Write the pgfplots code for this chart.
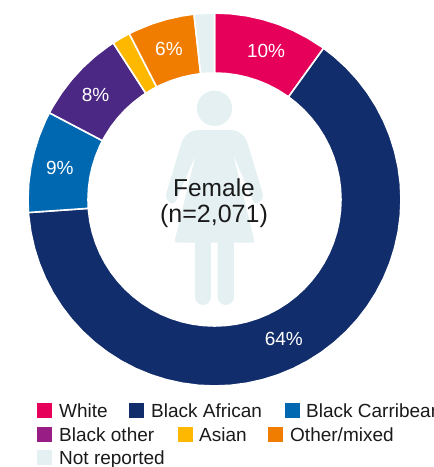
\documentclass[border=0pt]{standalone}
\usepackage{fontspec}
\setmainfont{Liberation Sans}
\usepackage{pgfplots}
\usepgfplotslibrary{polar}
\pgfplotsset{compat=1.18}
\definecolor{cwhite}{HTML}{E6005A}
\definecolor{cafrican}{HTML}{122D6B}
\definecolor{ccarib}{HTML}{0068B0}
\definecolor{cother}{HTML}{4B2884}
\definecolor{cotherleg}{HTML}{981D84}
\definecolor{casian}{HTML}{FFB800}
\definecolor{cmixed}{HTML}{F07D00}
\definecolor{cnr}{HTML}{E4F0F1}
\definecolor{ctext}{HTML}{1A1A1A}
\begin{document}
\begin{tikzpicture}
\clip (0pt,0pt) rectangle (434pt,467pt);
\path[use as bounding box] (0pt,0pt) rectangle (434pt,467pt);
\begin{polaraxis}[
    at={(28pt,81pt)}, anchor=south west,
    scale only axis, width=373pt, height=373pt,
    xmin=0, xmax=360, ymin=0, ymax=186.5,
    hide axis, clip=false,
    every axis plot/.append style={draw=white, line width=1.6pt, line join=miter, no markers},
]
% boundaries read as angles, radius outer 186.5 inner 126.5
% White 10%
\addplot[fill=cwhite] coordinates {
 (90,186.5)(85,186.5)(80,186.5)(75,186.5)(70,186.5)(65,186.5)(60,186.5)(55,186.5)(54.2,186.5)
 (54.2,126.5)(55,126.5)(60,126.5)(65,126.5)(70,126.5)(75,126.5)(80,126.5)(85,126.5)(90,126.5)
} --cycle;
% Black African 64%
\addplot[fill=cafrican] coordinates {
 (54.2,186.5)(50,186.5)(45,186.5)(40,186.5)(35,186.5)(30,186.5)(25,186.5)(20,186.5)(15,186.5)(10,186.5)(5,186.5)(0,186.5)
 (-5,186.5)(-10,186.5)(-15,186.5)(-20,186.5)(-25,186.5)(-30,186.5)(-35,186.5)(-40,186.5)(-45,186.5)(-50,186.5)(-55,186.5)(-60,186.5)
 (-65,186.5)(-70,186.5)(-75,186.5)(-80,186.5)(-85,186.5)(-90,186.5)(-95,186.5)(-100,186.5)(-105,186.5)(-110,186.5)(-115,186.5)(-120,186.5)
 (-125,186.5)(-130,186.5)(-135,186.5)(-140,186.5)(-145,186.5)(-150,186.5)(-155,186.5)(-160,186.5)(-165,186.5)(-170,186.5)(-175,186.5)(-176,186.5)
 (-176,126.5)(-175,126.5)(-170,126.5)(-165,126.5)(-160,126.5)(-155,126.5)(-150,126.5)(-145,126.5)(-140,126.5)(-135,126.5)(-130,126.5)(-125,126.5)
 (-120,126.5)(-115,126.5)(-110,126.5)(-105,126.5)(-100,126.5)(-95,126.5)(-90,126.5)(-85,126.5)(-80,126.5)(-75,126.5)(-70,126.5)(-65,126.5)
 (-60,126.5)(-55,126.5)(-50,126.5)(-45,126.5)(-40,126.5)(-35,126.5)(-30,126.5)(-25,126.5)(-20,126.5)(-15,126.5)(-10,126.5)(-5,126.5)
 (0,126.5)(5,126.5)(10,126.5)(15,126.5)(20,126.5)(25,126.5)(30,126.5)(35,126.5)(40,126.5)(45,126.5)(50,126.5)(54.2,126.5)
} --cycle;
% Black Carribean 9%
\addplot[fill=ccarib] coordinates {
 (184,186.5)(180,186.5)(175,186.5)(170,186.5)(165,186.5)(160,186.5)(155,186.5)(152.3,186.5)
 (152.3,126.5)(155,126.5)(160,126.5)(165,126.5)(170,126.5)(175,126.5)(180,126.5)(184,126.5)
} --cycle;
% Black other 8%
\addplot[fill=cother] coordinates {
 (152.3,186.5)(150,186.5)(145,186.5)(140,186.5)(135,186.5)(130,186.5)(125,186.5)(122.9,186.5)
 (122.9,126.5)(125,126.5)(130,126.5)(135,126.5)(140,126.5)(145,126.5)(150,126.5)(152.3,126.5)
} --cycle;
% Asian 2%
\addplot[fill=casian] coordinates {
 (122.9,186.5)(120,186.5)(117.2,186.5)
 (117.2,126.5)(120,126.5)(122.9,126.5)
} --cycle;
% Other/mixed 6%
\addplot[fill=cmixed] coordinates {
 (117.2,186.5)(115,186.5)(110,186.5)(105,186.5)(100,186.5)(96.3,186.5)
 (96.3,126.5)(100,126.5)(105,126.5)(110,126.5)(115,126.5)(117.2,126.5)
} --cycle;
% Not reported 2%
\addplot[fill=cnr] coordinates {
 (96.3,186.5)(95,186.5)(90,186.5)
 (90,126.5)(95,126.5)(96.3,126.5)
} --cycle;
\begin{scope}[every node/.style={text=white, font=\fontsize{19}{19}\selectfont, inner sep=0pt}]
\node at (axis cs:70.9,157.6) {10\%};
\node at (axis cs:-63.6,156) {64\%};
\node at (axis cs:168.3,158) {9\%};
\node at (axis cs:138.8,158) {8\%};
\node at (axis cs:106.8,157.7) {6\%};
\end{scope}
\end{polaraxis}
% woman icon, in pixel coordinates of a 3x crop
\begin{scope}[x=0.3333pt, y=-0.3333pt, shift={(130pt,387pt)}]
\fill[cnr] (253.5,85) circle (53);
\fill[cnr] (207,150) -- (300,150)
  .. controls (325,150) and (345,165) .. (353,190)
  -- (398,340) .. controls (404,362) and (375,385) .. (367,358)
  -- (310,225) -- (372,478) .. controls (374,486) and (372,488) .. (366,488)
  -- (312,488) -- (312,651)
  .. controls (312,665) and (300,675) .. (287.5,675)
  .. controls (275,675) and (263,665) .. (263,651)
  -- (263,488) -- (243,488) -- (243,651)
  .. controls (243,665) and (231,675) .. (219,675)
  .. controls (207,675) and (195,665) .. (195,651)
  -- (195,488)
  -- (141,488) .. controls (135,488) and (133,486) .. (135,478)
  -- (197,225) -- (140,358)
  .. controls (132,385) and (103,362) .. (109,340)
  -- (154,190) .. controls (162,165) and (182,150) .. (207,150) -- cycle;
\end{scope}
\node[text=ctext, font=\fontsize{24.5}{24.5}\selectfont, anchor=base, inner sep=0pt] at (214pt,270pt) {Female};
\node[text=ctext, font=\fontsize{25}{25}\selectfont, anchor=base, inner sep=0pt] at (214pt,244pt) {(n=2,071)};
% legend
\begin{scope}[every node/.style={text=ctext, font=\fontsize{19}{19}\selectfont, anchor=base west, inner sep=0pt}]
\fill[cwhite] (37pt,49.3pt) rectangle +(14.7pt,14.7pt);
\node at (59pt,49.5pt) {White};
\fill[cafrican] (129pt,49.3pt) rectangle +(14.7pt,14.7pt);
\node at (151pt,49.5pt) {Black African};
\fill[ccarib] (285pt,49.3pt) rectangle +(14.7pt,14.7pt);
\node at (306pt,49.5pt) {Black Carribean};
\fill[cotherleg] (37pt,25.3pt) rectangle +(14.7pt,14.7pt);
\node at (59pt,25.5pt) {Black other};
\fill[casian] (178pt,25.3pt) rectangle +(14.7pt,14.7pt);
\node at (199pt,25.5pt) {Asian};
\fill[cmixed] (268pt,25.3pt) rectangle +(14.7pt,14.7pt);
\node at (290pt,25.5pt) {Other/mixed};
\fill[cnr] (37pt,2pt) rectangle +(14.7pt,14.7pt);
\node at (59pt,2.2pt) {Not reported};
\end{scope}
\end{tikzpicture}
\end{document}
